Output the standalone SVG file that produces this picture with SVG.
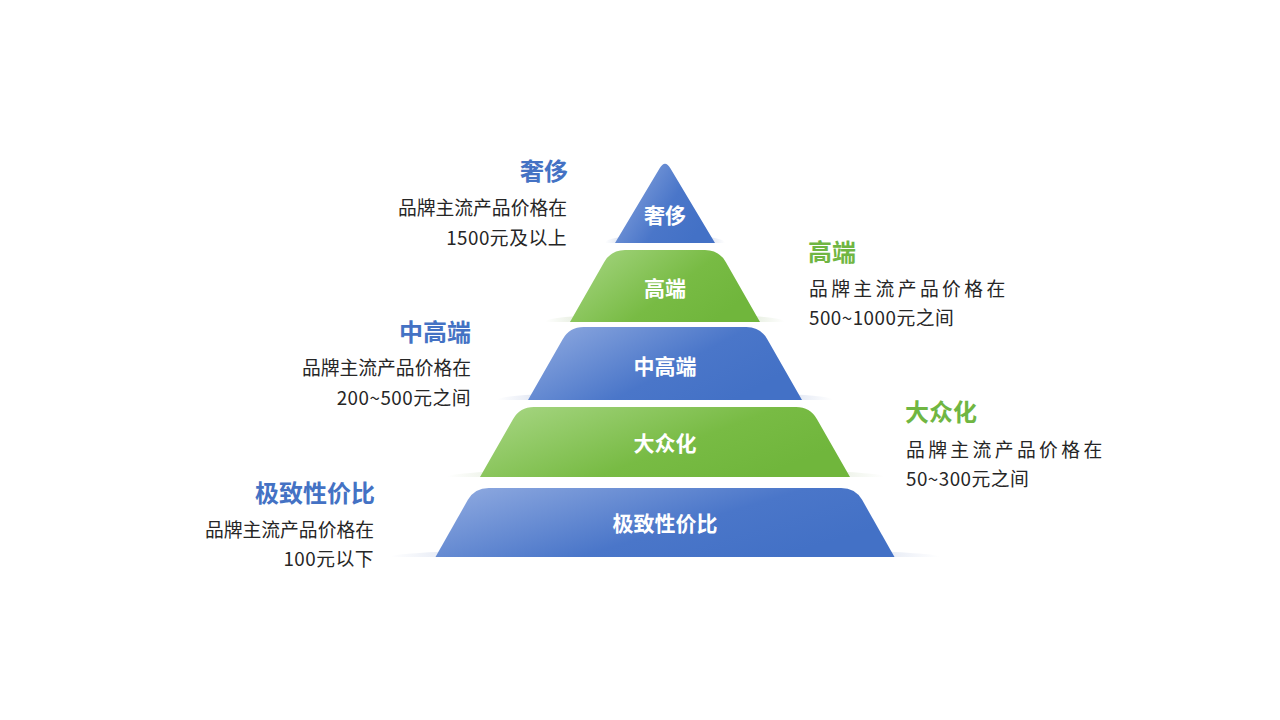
<svg xmlns="http://www.w3.org/2000/svg" width="1280" height="720" viewBox="0 0 1280 720">
  <defs>
    <linearGradient id="gBlue" x1="0" y1="0" x2="1" y2="0.5">
      <stop offset="0" stop-color="#92ace1"/>
      <stop offset="0.65" stop-color="#4a76c9"/>
      <stop offset="1" stop-color="#4371c6"/>
    </linearGradient>
    <linearGradient id="gGreen" x1="0" y1="0" x2="1" y2="0.5">
      <stop offset="0" stop-color="#a9d786"/>
      <stop offset="0.65" stop-color="#78bb44"/>
      <stop offset="1" stop-color="#70b63c"/>
    </linearGradient>
    <linearGradient id="shBlue" x1="0" y1="0" x2="1" y2="0">
      <stop offset="0" stop-color="#cdd6ea" stop-opacity="0"/>
      <stop offset="0.2" stop-color="#cdd6ea" stop-opacity="1"/>
      <stop offset="0.8" stop-color="#cdd6ea" stop-opacity="1"/>
      <stop offset="1" stop-color="#cdd6ea" stop-opacity="0"/>
    </linearGradient>
    <linearGradient id="shGreen" x1="0" y1="0" x2="1" y2="0">
      <stop offset="0" stop-color="#dbe6d1" stop-opacity="0"/>
      <stop offset="0.2" stop-color="#dbe6d1" stop-opacity="1"/>
      <stop offset="0.8" stop-color="#dbe6d1" stop-opacity="1"/>
      <stop offset="1" stop-color="#dbe6d1" stop-opacity="0"/>
    </linearGradient>
    <style>
      .tier { font-family: "Noto Sans CJK SC", "Noto Sans", sans-serif; font-weight: bold; font-size: 21px; fill: #ffffff; text-anchor: middle; }
      .title { font-family: "Noto Sans CJK SC", "Noto Sans", sans-serif; font-weight: bold; font-size: 24px; }
      .blue { fill: #4472c4; }
      .green { fill: #70b642; }
      .desc { font-family: "Noto Sans CJK SC", "Noto Sans", sans-serif; font-size: 18.8px; fill: #262626; }
      .num { letter-spacing: 0.5px; }
      .end { text-anchor: end; }
      .spaced { letter-spacing: 3.4px; }
    </style>
  </defs>

  <g id="tier1">
    <path d="M 605,243 A 60,9 0 0 1 725,243 Z" fill="url(#shBlue)"/>
    <path d="M 615,243 L 659.5,168.5 Q 665,159 670.5,168.5 L 715,243 Z" fill="url(#gBlue)"/>
    <text class="tier" x="665" y="223">奢侈</text>
  </g>

  <g id="tier2">
    <path d="M 545,322 A 120,9 0 0 1 785,322 Z" fill="url(#shGreen)"/>
    <path d="M 570,322 L 604.1,262.2 Q 611,250 625,250 L 705,250 Q 719,250 725.9,262.2 L 760,322 Z" fill="url(#gGreen)"/>
    <text class="tier" x="665" y="296">高端</text>
  </g>

  <g id="tier3">
    <path d="M 497,400 A 168,9 0 0 1 833,400 Z" fill="url(#shBlue)"/>
    <path d="M 528,400 L 562.7,339.2 Q 569.6,327 583.6,327 L 746.4,327 Q 760.4,327 767.3,339.2 L 802,400 Z" fill="url(#gBlue)"/>
    <text class="tier" x="665" y="374">中高端</text>
  </g>

  <g id="tier4">
    <path d="M 447,477 A 219,9 0 0 1 885,477 Z" fill="url(#shGreen)"/>
    <path d="M 480,477 L 513,419.2 Q 519.9,407 533.9,407 L 796.1,407 Q 810.1,407 817,419.2 L 850,477 Z" fill="url(#gGreen)"/>
    <text class="tier" x="665" y="451">大众化</text>
  </g>

  <g id="tier5">
    <path d="M 390,557 A 275,9 0 0 1 940,557 Z" fill="url(#shBlue)"/>
    <path d="M 435.5,557 L 467.9,499.8 Q 474.8,488 488.8,488 L 841.2,488 Q 855.2,488 862.1,499.8 L 894.5,557 Z" fill="url(#gBlue)"/>
    <text class="tier" x="665" y="531">极致性价比</text>
  </g>

  <g id="label-luxury">
    <text class="title blue end" x="568" y="180">奢侈</text>
    <text class="desc end" x="567" y="215">品牌主流产品价格在</text>
    <text class="desc num end" x="567" y="245">1500元及以上</text>
  </g>

  <g id="label-high">
    <text class="title green" x="808" y="261">高端</text>
    <text class="desc spaced" x="809" y="296">品牌主流产品价格在</text>
    <text class="desc num" x="809" y="325">500~1000元之间</text>
  </g>

  <g id="label-midhigh">
    <text class="title blue end" x="471" y="341">中高端</text>
    <text class="desc end" x="471" y="375">品牌主流产品价格在</text>
    <text class="desc num end" x="471" y="405">200~500元之间</text>
  </g>

  <g id="label-mass">
    <text class="title green" x="905" y="421">大众化</text>
    <text class="desc spaced" x="906" y="457">品牌主流产品价格在</text>
    <text class="desc num" x="906" y="486">50~300元之间</text>
  </g>

  <g id="label-value">
    <text class="title blue end" x="375" y="502">极致性价比</text>
    <text class="desc end" x="374" y="537">品牌主流产品价格在</text>
    <text class="desc num end" x="374" y="566">100元以下</text>
  </g>

  <g id="connectors"></g>
</svg>
